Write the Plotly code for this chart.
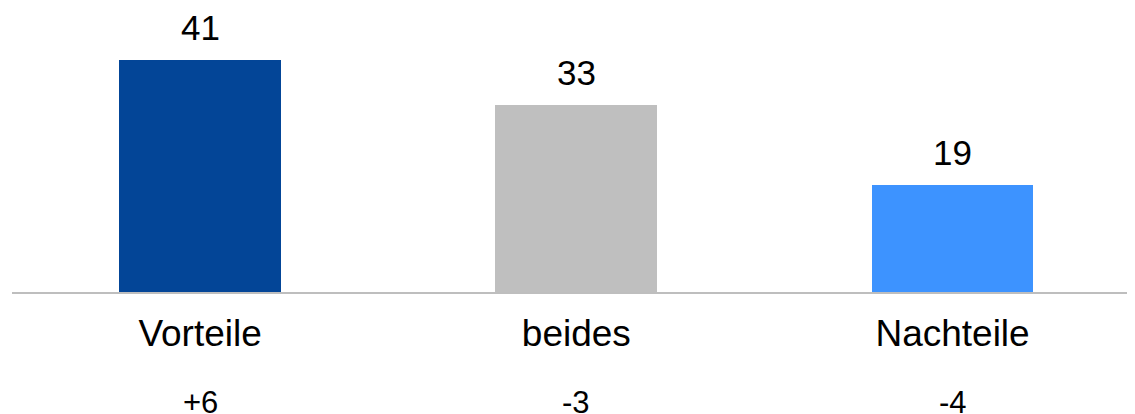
import plotly.graph_objects as go

# data
categories = ["Vorteile", "beides", "Nachteile"]
values = [41, 33, 19]
changes = ["+6", "-3", "-4"]
colors = ["#034597", "#BFBFBF", "#3D93FF"]

FONT = "Liberation Sans, Arial, sans-serif"

fig = go.Figure()
fig.add_trace(go.Bar(
    x=categories,
    y=values,
    marker=dict(color=colors, line=dict(width=0)),
    width=0.43,
    hoverinfo="skip",
))

# value labels above the bars
for cat, val in zip(categories, values):
    fig.add_annotation(x=cat, y=val, text=str(val), showarrow=False,
                       yanchor="bottom", yshift=11,
                       font=dict(family=FONT, size=35, color="black"))

# change vs previous survey, under the category labels
for cat, ch in zip(categories, changes):
    fig.add_annotation(x=cat, y=0, text=ch, showarrow=False,
                       yanchor="top", yshift=-91,
                       font=dict(family=FONT, size=31, color="black"))

# page body has an 8px margin, so the figure is 8px smaller each way
fig.update_layout(
    width=1127, height=406,
    margin=dict(l=4, r=0, t=0, b=122, pad=0),
    plot_bgcolor="white", paper_bgcolor="white",
    showlegend=False,
    bargap=0,
)
fig.update_xaxes(
    range=[-0.5, 2.485],
    showline=True, linecolor="#BEBEBE", linewidth=2,
    ticks="outside", ticklen=8, tickcolor="rgba(0,0,0,0)",
    tickfont=dict(family=FONT, size=37, color="black"),
    showgrid=False, zeroline=False,
)
fig.update_yaxes(
    range=[0, 50.2],
    visible=False, showgrid=False, zeroline=False,
)

fig.write_html("out.html")
